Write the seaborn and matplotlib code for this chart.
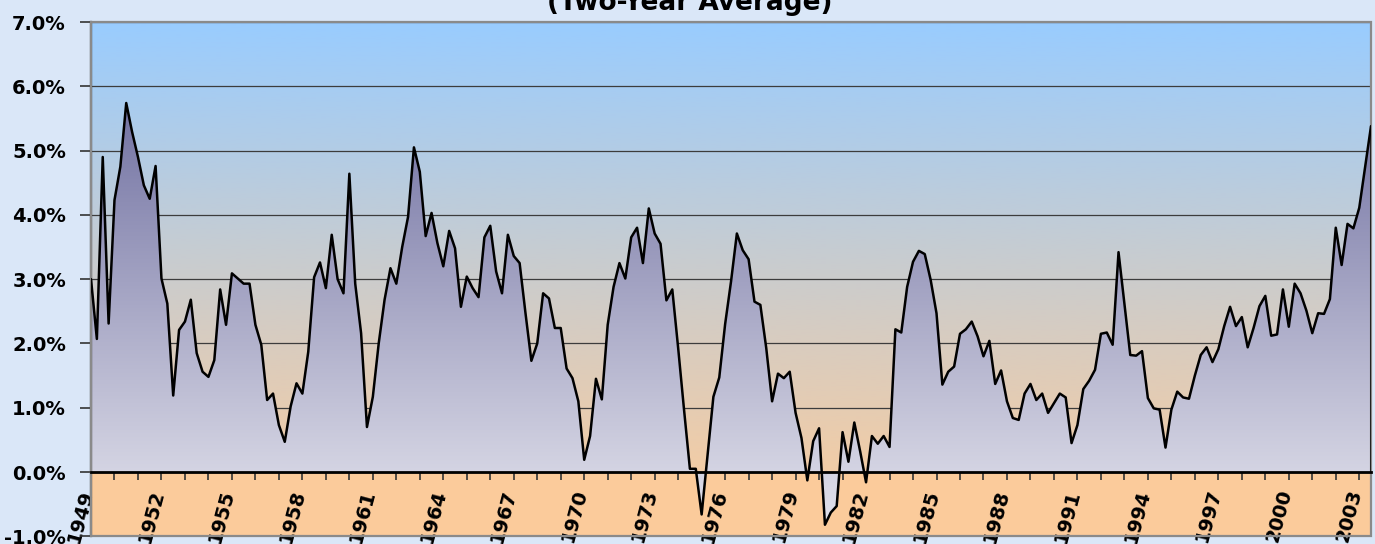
import numpy as np
import pandas as pd
import matplotlib
matplotlib.use("Agg")
import matplotlib.pyplot as plt
import matplotlib.transforms as mtransforms
from matplotlib.colors import to_rgb
from matplotlib.patches import Rectangle
import seaborn as sns

# ---------------- data (quarterly, 1949 Q1 onward, in percent) ----------------
values = [
    3.00, 2.07, 4.90, 2.31, 4.23, 4.75, 5.74, 5.29, 4.90, 4.46, 4.25, 4.76,
    3.01, 2.62, 1.19, 2.21, 2.34, 2.68, 1.85, 1.56, 1.48, 1.74, 2.84, 2.29,
    3.09, 3.01, 2.93, 2.93, 2.29, 1.98, 1.12, 1.22, 0.73, 0.47, 1.02, 1.38,
    1.22, 1.87, 3.03, 3.26, 2.86, 3.69, 3.00, 2.78, 4.64, 2.93, 2.16, 0.70,
    1.17, 2.00, 2.68, 3.17, 2.93, 3.50, 3.97, 5.05, 4.67, 3.67, 4.03, 3.56,
    3.20, 3.75, 3.48, 2.57, 3.04, 2.86, 2.72, 3.65, 3.83, 3.12, 2.78, 3.69,
    3.36, 3.25, 2.47, 1.73, 2.00, 2.78, 2.70, 2.24, 2.24, 1.61, 1.46, 1.10,
    0.19, 0.56, 1.45, 1.13, 2.29, 2.88, 3.25, 3.01, 3.65, 3.80, 3.25, 4.10,
    3.71, 3.55, 2.67, 2.84, 1.93, 0.97, 0.05, 0.05, -0.66, 0.26, 1.17, 1.47,
    2.30, 2.96, 3.71, 3.45, 3.31, 2.65, 2.60, 1.93, 1.10, 1.53, 1.46, 1.56,
    0.92, 0.53, -0.13, 0.48, 0.68, -0.82, -0.63, -0.53, 0.62, 0.16, 0.77, 0.32,
    -0.16, 0.56, 0.44, 0.56, 0.39, 2.22, 2.17, 2.88, 3.27, 3.44, 3.39, 2.99,
    2.47, 1.36, 1.56, 1.64, 2.15, 2.22, 2.34, 2.11, 1.80, 2.04, 1.37, 1.58,
    1.10, 0.84, 0.81, 1.22, 1.37, 1.12, 1.22, 0.92, 1.07, 1.22, 1.16, 0.45,
    0.73, 1.29, 1.42, 1.59, 2.15, 2.17, 1.98, 3.42, 2.62, 1.82, 1.81, 1.88,
    1.15, 0.99, 0.97, 0.38, 0.97, 1.25, 1.16, 1.14, 1.50, 1.82, 1.94, 1.71,
    1.91, 2.27, 2.57, 2.27, 2.41, 1.94, 2.24, 2.58, 2.74, 2.12, 2.14, 2.84,
    2.26, 2.93, 2.78, 2.51, 2.16, 2.47, 2.46, 2.69, 3.80, 3.22, 3.86, 3.79,
    4.11, 4.75, 5.38,
]
start_year = 1949
per_year = 4
all_years = list(range(1949, 2004))
label_years = list(range(1949, 2004, 3))
y_ticks = [-1, 0, 1, 2, 3, 4, 5, 6, 7]
y_labels = ["-1.0%", "0.0%", "1.0%", "2.0%", "3.0%", "4.0%", "5.0%", "6.0%", "7.0%"]
title = "(Two-Year Average)"

df = pd.DataFrame({"idx": np.arange(len(values)), "value": values})
last = df["idx"].iloc[-1]

# ---------------- styling ----------------
sns.set_theme(style="white")
plt.rcParams["font.family"] = ["DejaVu Sans"]

W, H = 1375, 544
fig = plt.figure(figsize=(W / 100, H / 100), dpi=100, facecolor="#dae7f8")
ax = fig.add_axes([91 / W, (H - 536.3) / H, 1280 / W, 514.3 / H])

# plot-area background gradient (blue at top -> tan at zero), solid tan below zero
n = 400
t = np.linspace(0, 1, n)[:, None]
bg = np.array(to_rgb("#99CCFF")) * (1 - t) + np.array(to_rgb("#F2CCA6")) * t
ax.imshow(bg[:, None, :], extent=[0, last, 0, y_ticks[-1]], aspect="auto",
          origin="upper", zorder=0, interpolation="bilinear")
ax.axhspan(y_ticks[0], 0, color="#FBCB9B", zorder=0, lw=0)

# area fill with vertical gradient
vmax, vmin = max(values), min(values)
ag = np.array(to_rgb("#7373A3")) * (1 - t) + np.array(to_rgb("#E2E2EC")) * t
poly = ax.fill_between(df["idx"], df["value"], 0, facecolor="none", edgecolor="none", zorder=2)
im2 = ax.imshow(ag[:, None, :], extent=[0, last, vmin, vmax], aspect="auto",
                origin="upper", zorder=2, interpolation="bilinear")
im2.set_clip_path(poly.get_paths()[0], transform=ax.transData)

# line
sns.lineplot(data=df, x="idx", y="value", color="black", linewidth=1.8, ax=ax, zorder=4)
ax.vlines(last, 0, df["value"].iloc[-1], color="black", lw=1.8, zorder=4)

ax.set_xlim(0, last)
ax.set_ylim(y_ticks[0], y_ticks[-1])
ax.set_xlabel("")
ax.set_ylabel("")

# grid
ax.set_axisbelow(True)
ax.grid(axis="y", color="#3c3c3c", lw=0.9)
ax.grid(axis="x", visible=False)

# frame
ax.add_patch(Rectangle((0, 0), 1, 1, transform=ax.transAxes, fill=False,
                       edgecolor="#8a8a8a", lw=1.6, zorder=3, clip_on=False))
for s in ["top", "right"]:
    ax.spines[s].set_visible(False)
ax.spines["left"].set_color("#222222")
ax.spines["left"].set_linewidth(1.6)
ax.spines["bottom"].set_position(("data", 0))
ax.spines["bottom"].set_color("black")
ax.spines["bottom"].set_linewidth(2.0)
ax.spines["bottom"].set_zorder(5)

# ticks
ax.set_yticks(y_ticks)
ax.set_yticklabels(y_labels, fontsize=14, fontweight="bold", color="black")
ax.set_xticks([(y - start_year) * per_year for y in label_years])
ax.set_xticks([(y - start_year) * per_year for y in all_years], minor=True)
ax.set_xticklabels([str(y) for y in label_years], fontsize=14, fontweight="bold", color="black")
ax.tick_params(axis="y", direction="out", length=8, width=1.2, color="#333333", pad=10, left=True)
ax.tick_params(axis="x", which="both", direction="out", length=6, width=1.2,
               color="#333333", bottom=True, pad=5, labelrotation=75)
offset = mtransforms.ScaledTranslation(0.06, 0, fig.dpi_scale_trans)
for lbl in ax.get_xticklabels():
    lbl.set_ha("right")
    lbl.set_va("top")
    lbl.set_transform(lbl.get_transform() + offset)

fig.text(690 / W, 1 - 10 / H, title, ha="center", va="baseline",
         fontsize=19, fontweight="bold", color="black")

fig.savefig("out.png", dpi=100, facecolor=fig.get_facecolor())
